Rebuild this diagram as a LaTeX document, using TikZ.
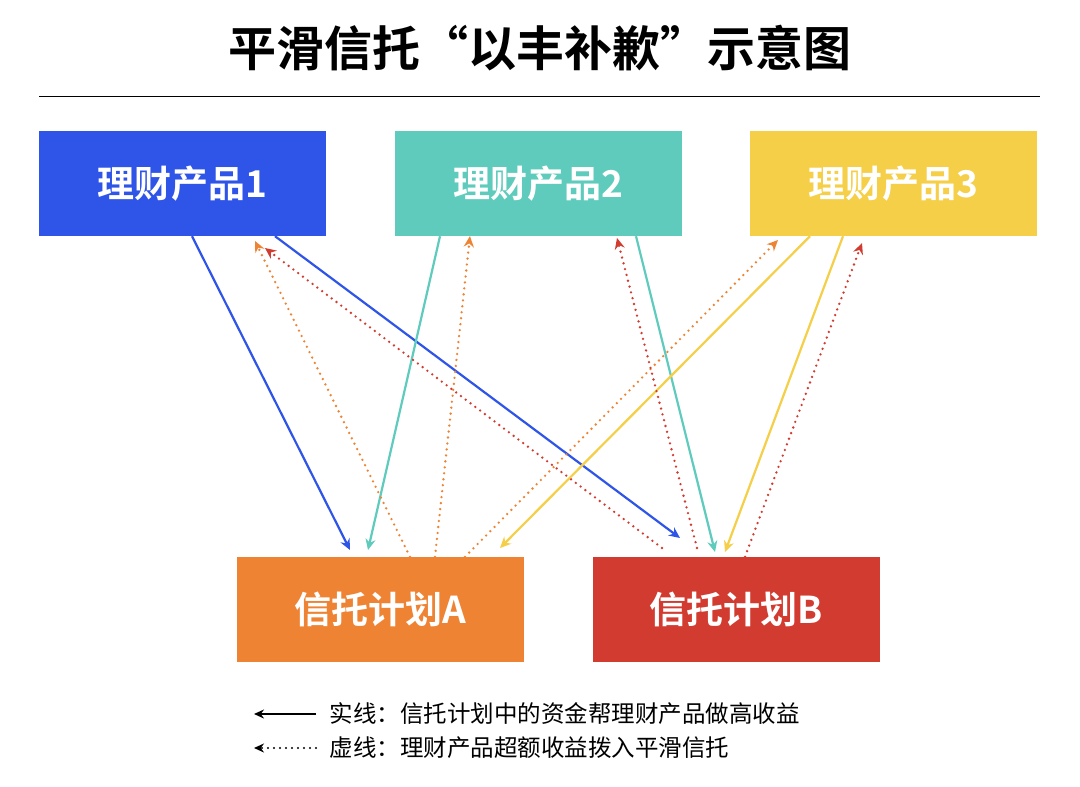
\documentclass[tikz,border=0pt]{standalone}
\usepackage{fontspec}
\setmainfont{Noto Sans CJK SC}
\newfontfamily\cjkb{Noto Sans CJK SC Bold}
\usetikzlibrary{arrows.meta}
\definecolor{cblue}{HTML}{2F55E8}
\definecolor{cteal}{HTML}{5FCBBD}
\definecolor{cyel}{HTML}{F5CF48}
\definecolor{corg}{HTML}{EE8433}
\definecolor{cred}{HTML}{D23B30}
\begin{document}
\begin{tikzpicture}[x=1pt,y=-1pt,
  box/.style={minimum width=287pt,minimum height=105pt,inner sep=0pt,text=white,font=\cjkb\fontsize{37}{40}\selectfont},
  sol/.style={line width=2.2pt,-{Stealth[length=11pt,width=10pt]}},
  dot/.style={line width=2.6pt,line cap=round,dash pattern=on 0pt off 6pt,-{Stealth[length=11pt,width=10pt]}}]
\useasboundingbox[fill=white] (0,0) rectangle (1080,787);
\node[font=\cjkb\fontsize{48}{52}\selectfont] (title) at (540,48) {平滑信托“以丰补歉”示意图};
\draw[line width=1pt] (39,96) -- (1040,96);
\node[box,fill=cblue] (p1) at (182.5,183.5) {理财产品1};
\node[box,fill=cteal] (p2) at (538.5,183.5) {理财产品2};
\node[box,fill=cyel] (p3) at (893.5,183.5) {理财产品3};
\node[box,fill=corg] (a) at (380.5,609.5) {信托计划A};
\node[box,fill=cred] (b) at (736.5,609.5) {信托计划B};
\coordinate (a1) at (350,550); \coordinate (a2) at (368,550); \coordinate (a3) at (500,548);
\coordinate (b1) at (680,538); \coordinate (b2) at (715,552); \coordinate (b3) at (725,552);
\draw[sol,cblue] (p1.south -| 192,0) -- (a1);
\draw[sol,cblue] (p1.south -| 275,0) -- (b1);
\draw[sol,cteal] (p2.south -| 440,0) -- (a2);
\draw[sol,cteal] (p2.south -| 636,0) -- (b2);
\draw[sol,cyel] (p3.south -| 810,0) -- (a3);
\draw[sol,cyel] (p3.south -| 843,0) -- (b3);
\coordinate (t1) at (255,241); \coordinate (t2) at (470,236); \coordinate (t3) at (778,240);
\coordinate (u1) at (265,248); \coordinate (u2) at (617,238); \coordinate (u3) at (862,243);
\draw[dot,corg] (a.north -| 410,0) -- (t1);
\draw[dot,corg] (a.north -| 435,0) -- (t2);
\draw[dot,corg] (a.north -| 465,0) -- (t3);
\draw[dot,cred] (662,548) -- (u1);
\draw[dot,cred] (697,548) -- (u2);
\draw[dot,cred] (b.north -| 745,0) -- (u3);
\coordinate (l1s) at (316,714); \coordinate (l1e) at (254,714);
\coordinate (l2s) at (316,748); \coordinate (l2e) at (254,748);
\draw[line width=2pt,-{Stealth[length=10pt,width=9pt]}] (l1s) -- (l1e);
\draw[line width=2.4pt,line cap=round,dash pattern=on 0pt off 6pt,-{Stealth[length=10pt,width=9pt]}] (l2s) -- (l2e);
\node[anchor=west,font=\fontsize{23.5}{26}\selectfont] (t1x) at (326,714) {实线：信托计划中的资金帮理财产品做高收益};
\node[anchor=west,font=\fontsize{23.5}{26}\selectfont] (t2x) at (326,748) {虚线：理财产品超额收益拨入平滑信托};
\end{tikzpicture}
\end{document}
